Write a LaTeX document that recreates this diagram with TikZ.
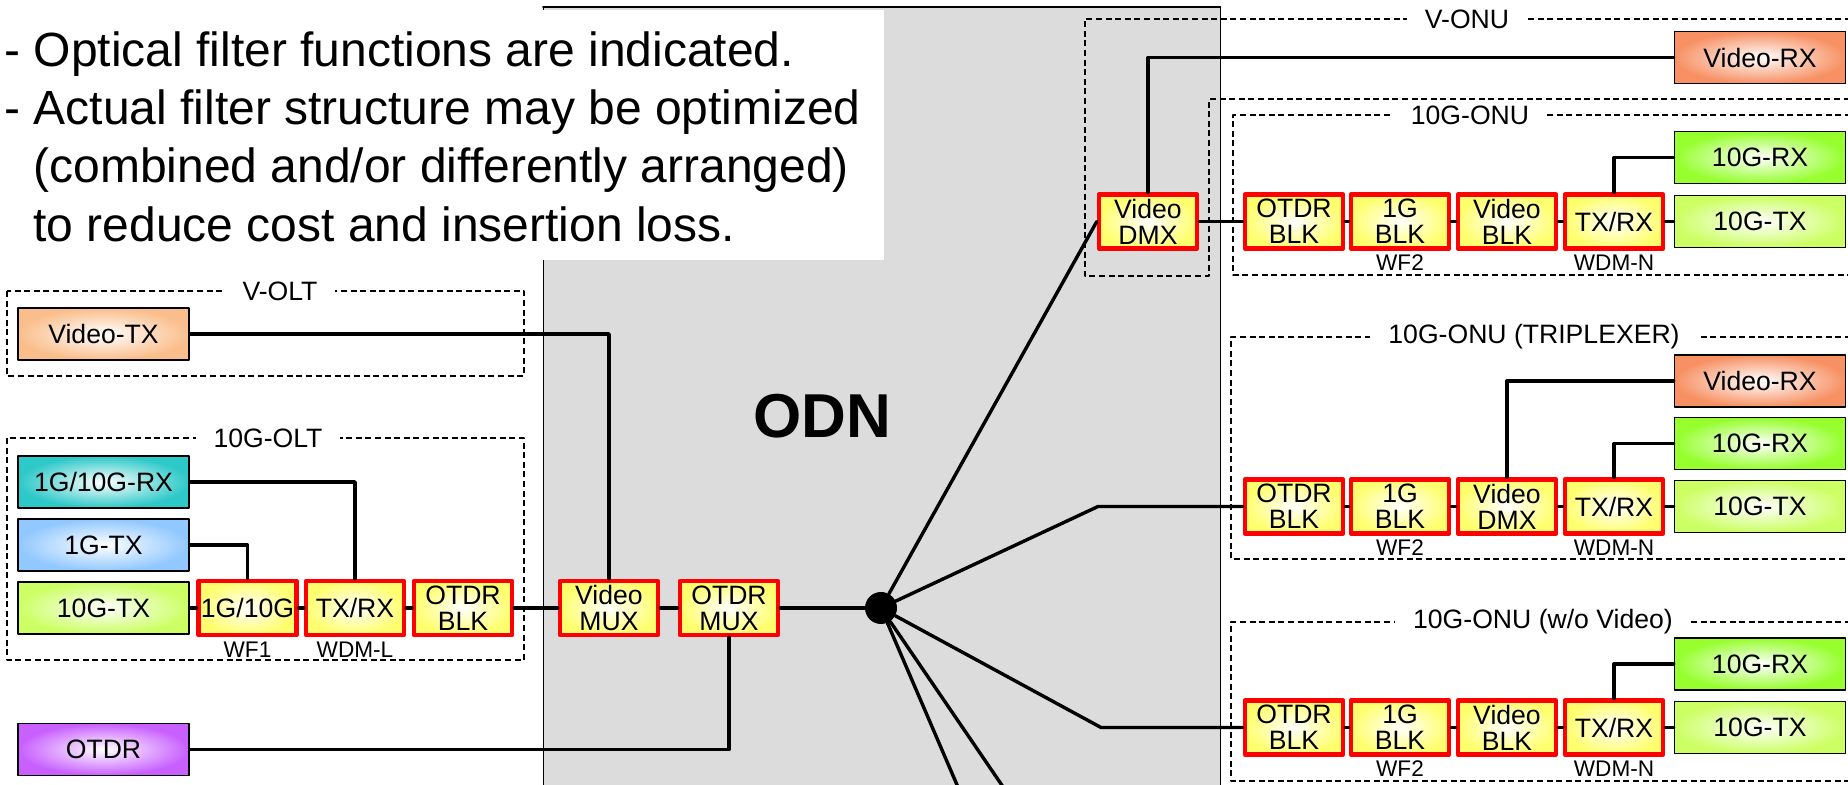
\documentclass[tikz,border=0pt]{standalone}
\usepackage{fontspec}
\setmainfont{Liberation Sans}
\usetikzlibrary{positioning}
\definecolor{odngray}{RGB}{220,220,220}
\definecolor{vtxcol}{RGB}{250,190,140}
\definecolor{rxcol}{RGB}{45,200,200}
\definecolor{txonecol}{RGB}{145,200,255}
\definecolor{txtencol}{RGB}{204,255,100}
\definecolor{otdrcol}{RGB}{200,95,255}
\definecolor{vrxcol}{RGB}{247,145,100}
\definecolor{rxtencol}{RGB}{150,255,45}
\definecolor{filtcol}{RGB}{255,255,110}
\tikzset{
    devbox/.style = {draw, line width=0.85pt, inner color=white, outer color=#1,
        minimum width=85.5pt, minimum height=26pt, inner sep=0pt,
        font=\fontsize{13.3}{13}\selectfont},
    filtbox/.style = {draw=red, line width=2.2pt, inner color=white, outer color=filtcol,
        minimum width=49pt, minimum height=27pt, inner sep=0pt, align=center,
        font=\fontsize{13.3}{13}\selectfont},
    zonebox/.style = {line width=1pt, line cap=butt, dash pattern=on 3pt off 1.8pt},
    zonelbl/.style = {fill=white, inner xsep=9pt, inner ysep=1pt, font=\fontsize{13.3}{13}\selectfont},
    sublbl/.style = {inner sep=0pt, font=\fontsize{11.3}{12}\selectfont},
    notetxt/.style = {anchor=base west, inner sep=0pt, font=\fontsize{24}{29}\selectfont},
    fiber/.style = {line width=1.7pt}
}

\begin{document}
\begin{tikzpicture}[x=0.5pt, y=-0.5pt, line cap=round, line join=round]
\useasboundingbox (0,0) rectangle (1848,785);
\clip (0,0) rectangle (1848,785);
% ODN area and note
\draw [fill=odngray, line width=0.5pt] (543,7) rectangle (1220,800);
\draw [line width=1pt] (543,7) -- (1220,7);
\node [font=\bfseries\fontsize{31}{31}\selectfont] (odn) at (822,416) {ODN};
\fill [white] (0,10) rectangle (884,260);
\node [notetxt] (note1) at (4,67) {- Optical filter functions are indicated.};
\node [notetxt] (note2) at (4,125) {- Actual filter structure may be optimized};
\node [notetxt] (note3) at (33,183) {(combined and/or differently arranged)};
\node [notetxt] (note4) at (33,242) {to reduce cost and insertion loss.};
% dashed zones
\draw [zonebox] (7,291) rectangle (524,376);
\node [zonelbl] (voltlbl) at (280,291) {V-OLT};
\draw [zonebox] (7,438) rectangle (524,660);
\node [zonelbl] (oltlbl) at (268,438) {10G-OLT};
\draw [zonebox] (1870,19) -- (1085,19) -- (1085,276) -- (1209,276) -- (1209,99) -- (1870,99);
\node [zonelbl] (vonulbl) at (1467,19) {V-ONU};
\draw [zonebox] (1870,115) -- (1233,115) -- (1233,275) -- (1870,275);
\node [zonelbl] (onualbl) at (1470,115) {10G-ONU};
\draw [zonebox] (1870,337) -- (1231,337) -- (1231,559) -- (1870,559);
\node [zonelbl] (onublbl) at (1534,337) {10G-ONU (TRIPLEXER)};
\draw [zonebox] (1870,622) -- (1231,622) -- (1231,781) -- (1870,781);
\node [zonelbl] (onuclbl) at (1543,622) {10G-ONU (w/o Video)};
% OLT side
\node [devbox=vtxcol] (vtx) at (103.5,334) {Video-TX};
\node [devbox=rxcol] (grx) at (103.5,482) {1G/10G-RX};
\node [devbox=txonecol] (gtxone) at (103.5,545) {1G-TX};
\node [devbox=txtencol] (gtxten) at (103.5,608) {10G-TX};
\node [devbox=otdrcol] (otdr) at (103.5,749.5) {OTDR};
\node [filtbox] (wfone) at (247.5,608) {1G/10G};
\node [filtbox] (wdml) at (355,608) {TX/RX};
\node [filtbox] (oblkl) at (463,608) {OTDR\\BLK};
\node [filtbox] (vmux) at (609,608) {Video\\MUX};
\node [filtbox] (omux) at (729,608) {OTDR\\MUX};
\node [sublbl, below=2pt of wfone] (wfonelbl) {WF1};
\node [sublbl, below=2pt of wdml] (wdmllbl) {WDM-L};
\node [circle, fill=black, minimum size=16pt, inner sep=0pt] (split) at (881,608) {};
% V-ONU and 10G-ONU
\node [filtbox] (vdmx) at (1148,221.5) {Video\\DMX};
\node [devbox=vrxcol] (vrxa) at (1760,57.5) {Video-RX};
\node [filtbox] (oblka) at (1294,221.5) {OTDR\\BLK};
\node [filtbox] (gblka) at (1400,221.5) {1G\\BLK};
\node [filtbox] (vblka) at (1507,221.5) {Video\\BLK};
\node [filtbox] (trxa) at (1614,221.5) {TX/RX};
\node [devbox=rxtencol] (rxa) at (1760,157.5) {10G-RX};
\node [devbox=txtencol] (txa) at (1760,221.5) {10G-TX};
\node [sublbl, below=2pt of gblka] (wftwoa) {WF2};
\node [sublbl, below=2pt of trxa] (wdmna) {WDM-N};
% 10G-ONU (TRIPLEXER)
\node [filtbox] (oblkb) at (1294,506.5) {OTDR\\BLK};
\node [filtbox] (gblkb) at (1400,506.5) {1G\\BLK};
\node [filtbox] (vdmxb) at (1507,506.5) {Video\\DMX};
\node [filtbox] (trxb) at (1614,506.5) {TX/RX};
\node [devbox=vrxcol] (vrxb) at (1760,381) {Video-RX};
\node [devbox=rxtencol] (rxb) at (1760,443.5) {10G-RX};
\node [devbox=txtencol] (txb) at (1760,506.5) {10G-TX};
\node [sublbl, below=2pt of gblkb] (wftwob) {WF2};
\node [sublbl, below=2pt of trxb] (wdmnb) {WDM-N};
% 10G-ONU (w/o Video)
\node [filtbox] (oblkc) at (1294,727.5) {OTDR\\BLK};
\node [filtbox] (gblkc) at (1400,727.5) {1G\\BLK};
\node [filtbox] (vblkc) at (1507,727.5) {Video\\BLK};
\node [filtbox] (trxc) at (1614,727.5) {TX/RX};
\node [devbox=rxtencol] (rxc) at (1760,664) {10G-RX};
\node [devbox=txtencol] (txc) at (1760,727.5) {10G-TX};
\node [sublbl, below=2pt of gblkc] (wftwoc) {WF2};
\node [sublbl, below=2pt of trxc] (wdmnc) {WDM-N};
\coordinate (bendb) at (1098,506.5);
\coordinate (bendc) at (1101,727.5);
\coordinate (dropa) at (963.5,800);
\coordinate (dropb) at (1012,800);
% fibres
\draw [fiber] (vtx.east) -| (vmux.north);
\draw [fiber] (grx.east) -| (wdml.north);
\draw [fiber] (gtxone.east) -| (wfone.north);
\draw [fiber] (gtxten) -- (wfone) -- (wdml) -- (oblkl) -- (vmux) -- (omux) -- (split);
\draw [fiber] (otdr.east) -| (omux.south);
\draw [fiber] (split) -- (vdmx.west);
\draw [fiber] (vdmx.north) |- (vrxa.west);
\draw [fiber] (vdmx) -- (oblka) -- (gblka) -- (vblka) -- (trxa) -- (txa);
\draw [fiber] (trxa.north) |- (rxa.west);
\draw [fiber] (split) -- (bendb) -- (oblkb.west);
\draw [fiber] (oblkb) -- (gblkb) -- (vdmxb) -- (trxb) -- (txb);
\draw [fiber] (vdmxb.north) |- (vrxb.west);
\draw [fiber] (trxb.north) |- (rxb.west);
\draw [fiber] (split) -- (bendc) -- (oblkc.west);
\draw [fiber] (oblkc) -- (gblkc) -- (vblkc) -- (trxc) -- (txc);
\draw [fiber] (trxc.north) |- (rxc.west);
\draw [fiber] (split) -- (dropa);
\draw [fiber] (split) -- (dropb);
\end{tikzpicture}
\end{document}
